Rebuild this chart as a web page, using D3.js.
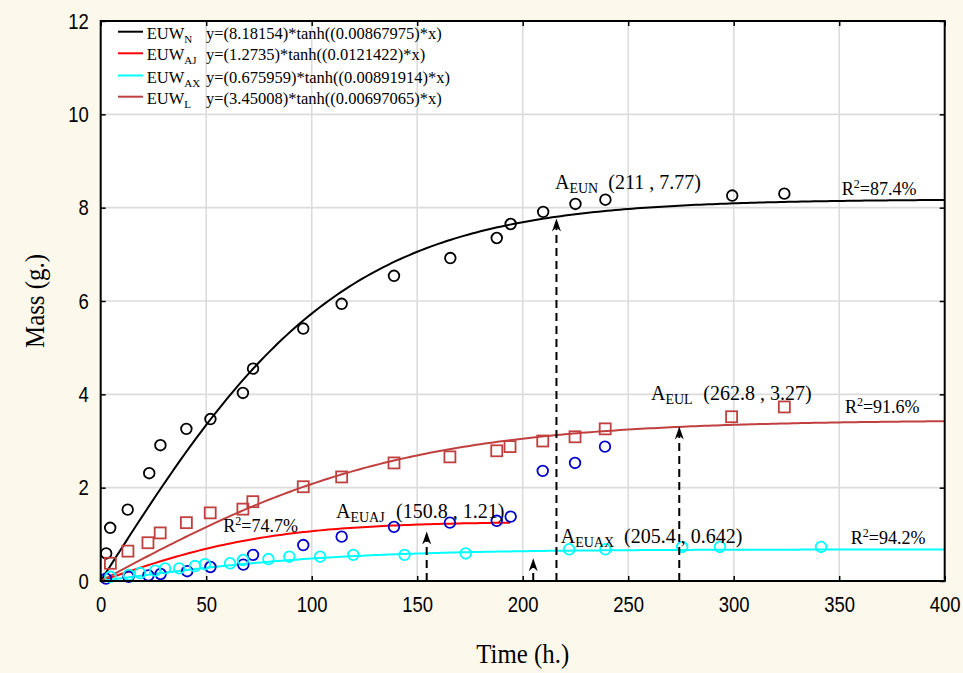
<!DOCTYPE html>
<html>
<head>
<meta charset="utf-8">
<script src="https://cdn.jsdelivr.net/npm/d3@7"></script>
<style>
  body { margin: 0; background: #fdf8ec; }
  svg { display: block; }
</style>
</head>
<body>
<script>
// ---- data ----
var seriesSubs = ["N", "AJ", "AX", "L"];
var seriesColors = ["#000000", "#ff0000", "#00ffff", "#c04040"];
var fitA = [8.18154, 1.2735, 0.675959, 3.45008];
var fitB = [0.00867975, 0.0121422, 0.00891914, 0.00697065];
var fitEnd = [400, 194, 400, 400];
var fitText = ["y=(8.18154)*tanh((0.00867975)*x)", "y=(1.2735)*tanh((0.0121422)*x)",
               "y=(0.675959)*tanh((0.00891914)*x)", "y=(3.45008)*tanh((0.00697065)*x)"];

var nX = [2.6, 4.5, 12.8, 23, 28.3, 40.6, 52, 67.4, 72.2, 96, 114.2, 139, 165.7, 187.7, 194.3, 209.7, 225, 239.2, 299.3, 324];
var nY = [0.59, 1.14, 1.53, 2.31, 2.91, 3.26, 3.47, 4.03, 4.55, 5.41, 5.94, 6.54, 6.92, 7.35, 7.65, 7.91, 8.08, 8.17, 8.26, 8.30];

var ajX = [2.5, 13.2, 22.6, 28.4, 41, 52, 67.6, 72.2, 96, 114.2, 139, 165.5, 187.7, 194.3, 209.5, 224.8, 239];
var ajY = [0.05, 0.09, 0.12, 0.15, 0.21, 0.30, 0.35, 0.56, 0.77, 0.95, 1.16, 1.25, 1.29, 1.38, 2.36, 2.53, 2.88];

var axX = [4.6, 13.3, 18.7, 25.8, 30.5, 37.2, 44.7, 49.4, 61.3, 67.5, 79.5, 89.4, 104, 119.7, 144, 173, 222, 239.2, 275.6, 293.5, 341.4];
var axY = [0.09, 0.13, 0.17, 0.22, 0.27, 0.27, 0.32, 0.36, 0.38, 0.45, 0.47, 0.52, 0.52, 0.56, 0.56, 0.59, 0.68, 0.68, 0.73, 0.73, 0.73];

var lX = [4.6, 12.9, 22.4, 28.2, 40.6, 51.9, 67.4, 72.1, 96, 114.2, 139, 165.5, 187.7, 194, 209.5, 224.8, 239.1, 299, 324];
var lY = [0.38, 0.64, 0.82, 1.03, 1.25, 1.46, 1.54, 1.70, 2.02, 2.23, 2.53, 2.66, 2.79, 2.88, 3.00, 3.09, 3.26, 3.52, 3.73];

var xTicks = [0, 50, 100, 150, 200, 250, 300, 350, 400];
var yTicks = [0, 2, 4, 6, 8, 10, 12];

var r2Text = ["87.4%", "74.7%", "94.2%", "91.6%"];
var annSubs = ["EUN", "EUAJ", "EUAX", "EUL"];
var annText = ["(211 , 7.77)", "(150.8 , 1.21)", "(205.4 , 0.642)", "(262.8 , 3.27)"];
var arrowX = [216, 154.5, 205, 274.2];
var arrowY = [7.77, 1.06, 0.49, 3.31];

window.onload = function() {
  var W = 963, H = 673;
  var left = 100.7, right = 944.7, top = 21, bottom = 581;
  var serif = "'Liberation Serif', 'Times New Roman', serif";
  var sans = "'Liberation Sans', Arial, sans-serif";
  var squeeze = 0.84;

  var x = d3.scaleLinear().domain([0, 400]).range([left, right]);
  var y = d3.scaleLinear().domain([0, 12]).range([bottom, top]);

  var svg = d3.select("body").append("svg")
    .attr("width", W)
    .attr("height", H);

  svg.append("rect")
    .attr("x", left).attr("y", top)
    .attr("width", right - left).attr("height", bottom - top)
    .attr("fill", "#ffffff");

  // grid
  svg.append("g").selectAll("line")
    .data(xTicks.slice(1, -1))
    .enter().append("line")
    .attr("x1", function(d) { return x(d); }).attr("x2", function(d) { return x(d); })
    .attr("y1", top).attr("y2", bottom)
    .attr("stroke", "#dcdcdc").attr("stroke-width", 1.6);
  svg.append("g").selectAll("line")
    .data(yTicks.slice(1, -1))
    .enter().append("line")
    .attr("y1", function(d) { return y(d); }).attr("y2", function(d) { return y(d); })
    .attr("x1", left).attr("x2", right)
    .attr("stroke", "#dcdcdc").attr("stroke-width", 1.6);

  // axes, ticks pointing in
  var gx = svg.append("g")
    .attr("transform", "translate(0," + bottom + ")")
    .call(d3.axisBottom(x).tickValues(xTicks).tickSize(-5).tickPadding(15));
  var gy = svg.append("g")
    .attr("transform", "translate(" + left + ",0)")
    .call(d3.axisLeft(y).tickValues(yTicks).tickSize(-5).tickPadding(12));
  svg.append("g")
    .attr("transform", "translate(0," + top + ")")
    .call(d3.axisTop(x).tickValues(xTicks).tickSize(-5).tickFormat(""));
  svg.append("g")
    .attr("transform", "translate(" + right + ",0)")
    .call(d3.axisRight(y).tickValues(yTicks).tickSize(-5).tickFormat(""));
  svg.selectAll(".domain").remove();
  svg.selectAll(".tick line").attr("stroke", "#000").attr("stroke-width", 1.5);
  svg.selectAll(".tick text")
    .attr("font-family", sans).attr("font-size", 22).attr("fill", "#000");
  // narrow the digits like the original
  gx.selectAll(".tick text").attr("transform", "scale(" + squeeze + ",1)");
  gy.selectAll(".tick text")
    .attr("x", -12 / squeeze)
    .attr("transform", "scale(" + squeeze + ",1)");

  // axis titles
  svg.append("text")
    .attr("transform", "translate(" + (left + right) / 2 + ",663) scale(0.92,1)")
    .attr("text-anchor", "middle")
    .attr("font-family", serif)
    .attr("font-size", 27)
    .text("Time (h.)");
  svg.append("text")
    .attr("transform", "translate(44," + (top + bottom) / 2 + ") rotate(-90) scale(0.92,1)")
    .attr("text-anchor", "middle")
    .attr("font-family", serif)
    .attr("font-size", 27)
    .text("Mass (g.)");

  // legend
  var legY = [31.7, 53.3, 75.5, 96.7];
  var leg = svg.append("g").selectAll("g")
    .data(seriesSubs)
    .enter().append("g");
  leg.append("line")
    .attr("x1", 118).attr("x2", 143)
    .attr("y1", function(d, i) { return legY[i]; })
    .attr("y2", function(d, i) { return legY[i]; })
    .attr("stroke", function(d, i) { return seriesColors[i]; })
    .attr("stroke-width", 2);
  var lt = leg.append("text")
    .attr("x", 146.7)
    .attr("y", function(d, i) { return legY[i] + 7; })
    .attr("font-family", serif).attr("font-size", 16.5);
  lt.append("tspan").text("EUW");
  lt.append("tspan").attr("font-size", 11).attr("dy", 4).text(function(d) { return d; });
  leg.append("text")
    .attr("x", 206)
    .attr("y", function(d, i) { return legY[i] + 7; })
    .attr("font-family", serif).attr("font-size", 16.5)
    .text(function(d, i) { return fitText[i]; });

  // fitted curves
  var line = d3.line()
    .x(function(d) { return x(d[0]); })
    .y(function(d) { return y(d[1]); });
  fitA.forEach(function(a, i) {
    var pts = d3.range(0, fitEnd[i] + 0.1, 2).map(function(t) {
      return [t, a * Math.tanh(fitB[i] * t)];
    });
    svg.append("path")
      .attr("d", line(pts))
      .attr("fill", "none")
      .attr("stroke", seriesColors[i])
      .attr("stroke-width", 2);
  });

  // points
  function circles(xs, ys, color) {
    svg.append("g").selectAll("circle")
      .data(xs)
      .enter().append("circle")
      .attr("cx", function(d) { return x(d); })
      .attr("cy", function(d, i) { return y(ys[i]); })
      .attr("r", 5.3)
      .attr("fill", "none")
      .attr("stroke", color)
      .attr("stroke-width", 1.8);
  }
  circles(nX, nY, "#000000");
  circles(ajX, ajY, "#0000cc");
  circles(axX, axY, "#00ffff");
  svg.append("g").selectAll("rect")
    .data(lX)
    .enter().append("rect")
    .attr("x", function(d) { return x(d) - 5.5; })
    .attr("y", function(d, i) { return y(lY[i]) - 5.5; })
    .attr("width", 11).attr("height", 11)
    .attr("fill", "none")
    .attr("stroke", "#c04040")
    .attr("stroke-width", 1.8);

  // dashed arrows
  svg.append("g").selectAll("line")
    .data(arrowX)
    .enter().append("line")
    .attr("x1", function(d) { return x(d); })
    .attr("x2", function(d) { return x(d); })
    .attr("y1", bottom)
    .attr("y2", function(d, i) { return y(arrowY[i]) + 8; })
    .attr("stroke", "#000")
    .attr("stroke-width", 2)
    .attr("stroke-dasharray", "8,5");
  svg.append("g").selectAll("path")
    .data(arrowX)
    .enter().append("path")
    .attr("transform", function(d, i) { return "translate(" + x(d) + "," + y(arrowY[i]) + ")"; })
    .attr("d", "M0,0 L4.5,13 L0,9 L-4.5,13 Z")
    .attr("fill", "#000");

  // annotation text (positions in data units)
  var annPos = [[215.3, 8.41, 240.6], [111.5, 1.34, 140], [218, 0.81, 248], [260.8, 3.88, 285.6]];
  var r2Pos = [[351.2, 8.27], [58.1, 1.06], [355.5, 0.79], [352.7, 3.61]];
  annSubs.forEach(function(s, i) {
    var t = svg.append("text")
      .attr("x", x(annPos[i][0])).attr("y", y(annPos[i][1]))
      .attr("font-family", serif).attr("font-size", 20);
    t.append("tspan").text("A");
    t.append("tspan").attr("font-size", 14).attr("dy", 4).text(s);
    svg.append("text")
      .attr("x", x(annPos[i][2])).attr("y", y(annPos[i][1]))
      .attr("font-family", serif).attr("font-size", 20)
      .text(annText[i]);
    var r = svg.append("text")
      .attr("x", x(r2Pos[i][0])).attr("y", y(r2Pos[i][1]))
      .attr("font-family", serif).attr("font-size", 18);
    r.append("tspan").text("R");
    r.append("tspan").attr("font-size", 12).attr("dy", -7).text("2");
    r.append("tspan").attr("dy", 7).text("=" + r2Text[i]);
  });

  // frame
  svg.append("rect")
    .attr("x", left).attr("y", top)
    .attr("width", right - left).attr("height", bottom - top)
    .attr("fill", "none")
    .attr("stroke", "#000")
    .attr("stroke-width", 2);
};
</script>
</body>
</html>
